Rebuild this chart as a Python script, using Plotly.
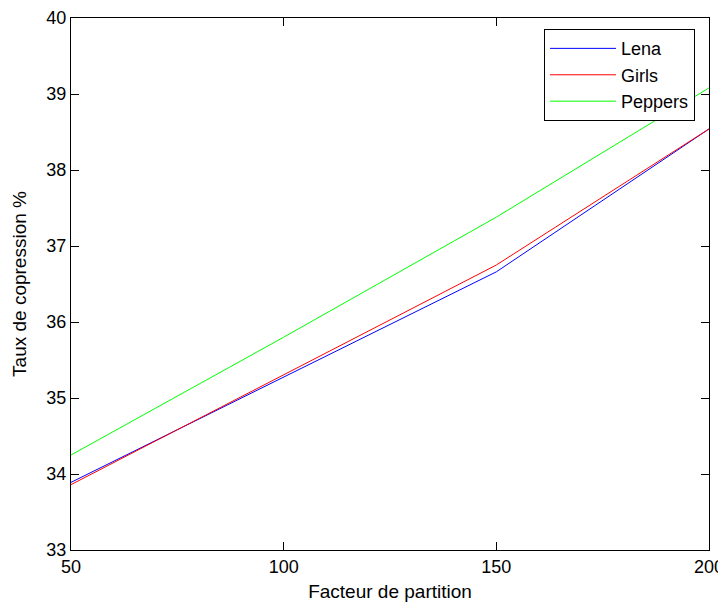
import plotly.graph_objects as go

x_vals = [50, 100, 150, 200]
lena = [33.89, 35.27, 36.66, 38.54]
girls = [33.86, 35.30, 36.75, 38.54]
peppers = [34.25, 35.80, 37.38, 39.08]

fig = go.Figure()
fig.add_trace(go.Scatter(x=x_vals, y=lena, mode="lines", name="Lena",
                         line=dict(color="#0000ff", width=1)))
fig.add_trace(go.Scatter(x=x_vals, y=girls, mode="lines", name="Girls",
                         line=dict(color="#ff0000", width=1)))
fig.add_trace(go.Scatter(x=x_vals, y=peppers, mode="lines", name="Peppers",
                         line=dict(color="#00ff00", width=1)))

font = dict(family="Liberation Sans, Arial, sans-serif", color="black")

fig.update_layout(
    width=718, height=598,
    margin=dict(l=63, r=17, t=10, b=56, autoexpand=False),
    paper_bgcolor="white", plot_bgcolor="white",
    font=dict(**font, size=18),
    showlegend=True,
    legend=dict(x=0.7414, y=0.979, xanchor="left", yanchor="top",
                bordercolor="black", borderwidth=1, bgcolor="white",
                font=dict(**font, size=18), tracegroupgap=0,
                itemwidth=66),
    xaxis=dict(range=[50, 200], tickvals=[50, 100, 150, 200],
               showgrid=False, zeroline=False, showline=True,
               linecolor="black", linewidth=1, mirror="ticks",
               ticks="inside", ticklen=8, tickcolor="black",
               tickfont=dict(**font, size=18), automargin=False,
               title=dict(text="Facteur de partition", font=dict(**font, size=19), standoff=9)),
    yaxis=dict(range=[33, 40], tickvals=[33, 34, 35, 36, 37, 38, 39, 40],
               showgrid=False, zeroline=False, showline=True,
               linecolor="black", linewidth=1, mirror="ticks",
               ticks="inside", ticklen=8, tickcolor="black",
               tickfont=dict(**font, size=18), automargin=False,
               title=dict(text="Taux de copression %", font=dict(**font, size=19), standoff=14)),
)

fig.write_html("out.html")
